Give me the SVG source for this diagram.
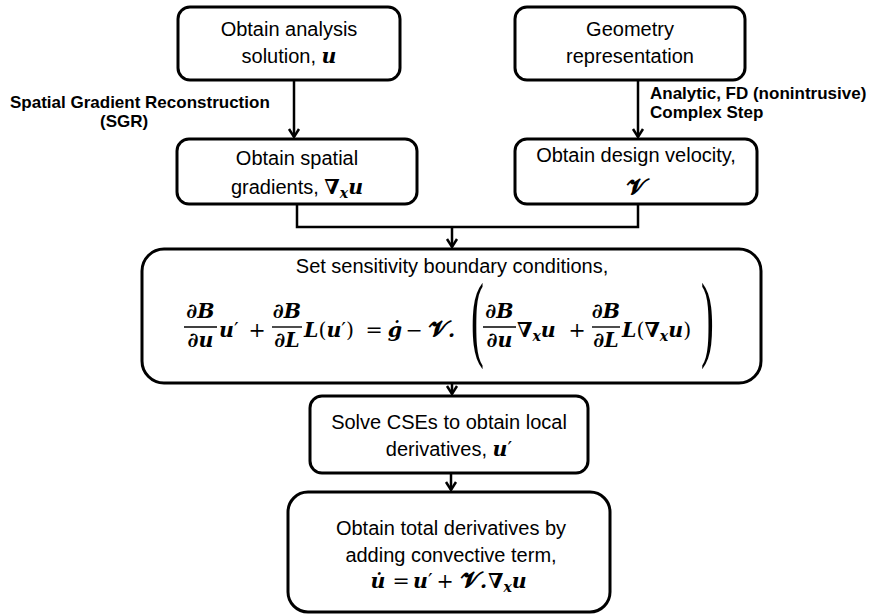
<svg xmlns="http://www.w3.org/2000/svg" width="880" height="615" viewBox="0 0 880 615">
<defs>
<style>
.box{fill:#fff;stroke:#000;stroke-width:3}
.t{font-family:"Liberation Sans",Arial,sans-serif;font-size:20px;fill:#000;text-anchor:middle}
.lb{font-family:"Liberation Sans",Arial,sans-serif;font-size:17px;font-weight:bold;fill:#000}
.m{font-family:"DejaVu Serif","Liberation Serif",serif;font-weight:bold;font-style:italic;font-size:20.5px;fill:#000}
.op{font-family:"DejaVu Serif","Liberation Serif",serif;font-weight:normal;font-style:normal;font-size:20.5px;fill:#000}
.sub{font-family:"DejaVu Serif","Liberation Serif",serif;font-weight:bold;font-style:italic;font-size:14px}
.v{font-family:"DejaVu Serif","DejaVu Sans",serif;font-weight:bold;font-style:normal;font-size:23px;fill:#000}
.par{font-family:"Liberation Serif","DejaVu Serif",serif;font-size:96px;fill:#000}
.mid{text-anchor:middle}
.conn{fill:none;stroke:#000;stroke-width:2.5}
.fr{stroke:#000;stroke-width:1.4}
</style>
<marker id="arr" markerUnits="userSpaceOnUse" markerWidth="12" markerHeight="14" refX="0" refY="0" orient="auto" overflow="visible">
<path d="M-8,-5 L0,0 L-8,5" fill="none" stroke="#000" stroke-width="2.5" stroke-linejoin="miter"/>
</marker>
</defs>

<g id="connectors">
<line class="conn" x1="294" y1="80" x2="294" y2="137" marker-end="url(#arr)"/>
<line class="conn" x1="638" y1="80" x2="638" y2="137" marker-end="url(#arr)"/>
<polyline class="conn" points="297,204 297,227 638,227 638,204"/>
<line class="conn" x1="452" y1="227" x2="452" y2="247" marker-end="url(#arr)"/>
<line class="conn" x1="452" y1="383" x2="452" y2="394" marker-end="url(#arr)"/>
<line class="conn" x1="451" y1="473" x2="451" y2="490" marker-end="url(#arr)"/>
</g>

<g id="labels">
<text class="lb" x="10" y="108">Spatial Gradient Reconstruction</text>
<text class="lb" x="100" y="127">(SGR)</text>
<text class="lb" x="650" y="99">Analytic, FD (nonintrusive)</text>
<text class="lb" x="650" y="118">Complex Step</text>
</g>

<g id="analysis">
<rect class="box" x="178" y="7" width="222" height="73" rx="12"/>
<text class="t" x="289" y="36">Obtain analysis</text>
<text class="t" x="289" y="63">solution, <tspan class="m">u</tspan></text>
</g>

<g id="geometry">
<rect class="box" x="515" y="7" width="230" height="73" rx="12"/>
<text class="t" x="630" y="36">Geometry</text>
<text class="t" x="630" y="63">representation</text>
</g>

<g id="gradients">
<rect class="box" x="177" y="139" width="240" height="65" rx="12"/>
<text class="t" x="297" y="194">gradients, <tspan class="m">∇</tspan><tspan class="sub" dy="4">x</tspan><tspan class="m" dy="-4">u</tspan></text>
<text class="t" x="297" y="165">Obtain spatial</text>
</g>

<g id="velocity">
<rect class="box" x="515" y="139" width="242" height="65" rx="12"/>
<text class="t" x="636" y="162">Obtain design velocity,</text>
<text class="v mid" x="636" y="195">𝓥</text>
</g>

<g id="bc">
<rect class="box" x="142" y="249" width="619" height="134" rx="22"/>
<text class="t" x="452" y="273">Set sensitivity boundary conditions,</text>
<line class="fr" x1="184" y1="327" x2="217" y2="327"/>
<text class="m mid" x="200.5" y="318">∂B</text>
<text class="m mid" x="200.5" y="347">∂u</text>
<text class="m" x="219" y="337">u<tspan class="op">′</tspan></text>
<text class="op mid" x="257" y="337">+</text>
<line class="fr" x1="272" y1="327" x2="302" y2="327"/>
<text class="m mid" x="287" y="318">∂B</text>
<text class="m mid" x="287" y="347">∂L</text>
<text class="m" x="304" y="337">L<tspan class="op">(</tspan>u<tspan class="op">′)</tspan></text>
<text class="op mid" x="374" y="337">=</text>
<text class="m mid" x="395" y="337">ġ</text>
<text class="op mid" x="414" y="337">−</text>
<text class="v" x="429" y="337">𝓥<tspan class="m">.</tspan></text>
<text class="par" transform="translate(471,349) scale(0.4,1)">(</text>
<line class="fr" x1="483" y1="327" x2="516" y2="327"/>
<text class="m mid" x="499.5" y="318">∂B</text>
<text class="m mid" x="499.5" y="347">∂u</text>
<text class="m" x="517" y="337">∇<tspan class="sub" dy="4">x</tspan><tspan dy="-4">u</tspan></text>
<text class="op mid" x="577" y="337">+</text>
<line class="fr" x1="592" y1="327" x2="620" y2="327"/>
<text class="m mid" x="606" y="318">∂B</text>
<text class="m mid" x="606" y="347">∂L</text>
<text class="m" x="622" y="337">L<tspan class="op">(</tspan>∇<tspan class="sub" dy="4">x</tspan><tspan dy="-4">u</tspan><tspan class="op">)</tspan></text>
<text class="par" transform="translate(701,349) scale(0.4,1)">)</text>
</g>

<g id="solve">
<rect class="box" x="310" y="396" width="278" height="77" rx="12"/>
<text class="t" x="449" y="429">Solve CSEs to obtain local</text>
<text class="t" x="449" y="456">derivatives, <tspan class="m">u</tspan><tspan class="op">′</tspan></text>
</g>

<g id="total">
<rect class="box" x="288" y="492" width="322" height="120" rx="20"/>
<text class="t" x="451" y="535">Obtain total derivatives by</text>
<text class="t" x="451" y="562">adding convective term,</text>
<text class="m mid" x="378" y="588">u̇</text>
<text class="op mid" x="401" y="588">=</text>
<text class="m" x="413" y="588">u<tspan class="op">′</tspan></text>
<text class="op mid" x="445" y="588">+</text>
<text class="v" x="461" y="588">𝓥<tspan class="m">.</tspan></text>
<text class="m" x="488" y="588" style="font-style:normal">∇<tspan class="sub" dy="4">x</tspan><tspan style="font-style:italic" dy="-4">u</tspan></text>
</g>
</svg>
